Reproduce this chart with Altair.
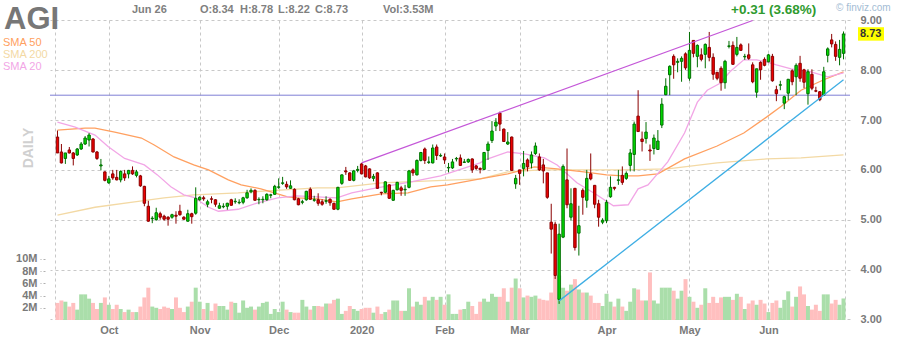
import altair as alt
import pandas as pd

# ---------------- data ----------------
opens = [6.66,6.36,6.23,6.40,6.34,6.30,6.42,6.52,6.60,6.62,
         6.36,6.08,5.96,5.74,5.92,5.85,5.80,5.92,5.92,5.99,
         5.89,5.88,5.67,5.27,5.02,5.00,5.12,5.07,5.05,5.05,
         5.09,5.17,5.05,4.97,5.12,5.13,5.40,5.44,5.31,5.42,
         5.40,5.23,5.26,5.27,5.40,5.36,5.34,5.35,5.44,5.56,
         5.59,5.40,5.40,5.40,5.49,5.51,5.65,5.73,5.71,5.63,
         5.61,5.42,5.35,5.40,5.61,5.39,5.40,5.36,5.37,5.41,
         5.33,5.21,5.73,5.98,5.94,5.79,5.99,6.12,6.08,6.02,
         5.83,5.94,5.55,5.55,5.70,5.39,5.60,5.64,5.60,5.65,
         6.00,5.90,6.19,6.42,6.15,6.14,6.46,6.28,6.26,6.04,
         6.04,6.22,6.24,6.15,6.16,6.22,6.08,6.03,6.01,6.39,
         6.59,6.88,7.14,6.82,6.52,6.66,5.72,6.00,6.03,6.20,
         6.14,6.33,6.26,6.10,5.94,4.95,4.91,3.40,4.65,5.80,
         5.05,5.63,4.73,5.59,5.39,5.92,5.69,5.32,4.95,4.98,
         5.46,5.65,5.79,5.89,5.83,6.09,6.31,7.08,6.62,6.63,
         6.40,6.43,6.41,6.90,7.51,7.91,8.28,8.16,8.18,8.33,
         7.84,8.60,8.28,8.31,8.32,8.46,8.26,7.96,8.04,7.75,
         8.48,8.50,8.32,8.51,8.27,8.31,8.11,7.56,8.16,8.22,
         8.17,8.28,7.61,7.70,7.34,7.54,7.99,7.87,8.14,8.01,
         7.53,7.92,7.59,7.57,7.50,8.30,8.61,8.52,8.26,8.34]
highs = [6.79,6.52,6.34,6.46,6.36,6.44,6.56,6.68,6.74,6.64,
         6.38,6.22,5.97,5.88,6.00,6.00,5.99,6.00,6.00,6.07,
         6.00,5.90,5.68,5.38,5.07,5.24,5.16,5.10,5.07,5.12,
         5.17,5.30,5.07,5.20,5.14,5.65,5.47,5.48,5.40,5.47,
         5.41,5.34,5.33,5.34,5.42,5.43,5.41,5.46,5.60,5.63,
         5.61,5.45,5.47,5.53,5.52,5.70,5.83,5.86,5.77,5.79,
         5.63,5.44,5.40,5.58,5.65,5.48,5.53,5.41,5.47,5.43,
         5.34,5.66,5.91,6.06,5.95,6.00,6.08,6.14,6.10,6.03,
         5.92,5.95,5.56,5.77,5.71,5.60,5.76,5.68,5.70,6.00,
         6.03,6.21,6.36,6.45,6.27,6.51,6.51,6.33,6.33,6.14,
         6.22,6.26,6.31,6.22,6.23,6.23,6.10,6.05,6.36,6.57,
         6.98,7.04,7.17,6.83,6.76,6.67,5.90,6.00,6.38,6.23,
         6.37,6.55,6.33,6.22,5.94,5.32,4.96,4.92,6.11,6.43,
         5.63,5.63,5.28,5.63,6.00,6.33,5.69,5.40,5.03,5.40,
         5.87,5.66,6.00,6.07,5.97,6.42,6.97,7.60,6.77,6.96,
         6.51,6.71,6.80,7.44,7.84,8.10,8.32,8.24,8.28,8.36,
         8.77,8.60,8.52,8.44,8.54,8.77,8.34,7.96,8.08,8.21,
         8.59,8.58,8.67,8.54,8.33,8.54,8.16,8.03,8.18,8.26,
         8.33,8.33,7.69,7.79,7.49,7.82,8.02,8.14,8.29,8.03,
         8.02,8.02,7.67,7.58,8.07,8.46,8.73,8.58,8.61,8.78]
lows = [6.34,6.13,6.12,6.33,6.09,6.28,6.40,6.50,6.47,6.35,
        6.20,5.99,5.77,5.72,5.80,5.79,5.75,5.78,5.83,5.90,
        5.85,5.66,5.27,4.96,4.93,4.98,5.00,4.98,4.88,5.02,
        4.92,5.08,5.00,4.96,4.92,5.10,5.38,5.38,5.25,5.33,
        5.26,5.22,5.23,5.20,5.28,5.32,5.31,5.31,5.42,5.53,
        5.38,5.31,5.33,5.38,5.43,5.50,5.62,5.70,5.62,5.62,
        5.39,5.29,5.31,5.38,5.40,5.36,5.28,5.28,5.32,5.28,
        5.20,5.19,5.70,5.90,5.78,5.77,5.95,5.91,5.85,5.82,
        5.77,5.62,5.49,5.53,5.42,5.38,5.59,5.48,5.48,5.63,
        5.88,5.89,6.17,6.12,6.12,6.13,6.20,6.26,6.12,5.95,
        6.02,6.17,6.08,6.14,6.14,5.94,6.00,5.93,6.00,6.20,
        6.54,6.78,6.78,6.56,6.50,5.98,5.62,5.70,5.87,5.97,
        6.03,6.30,5.98,5.73,5.42,4.32,3.81,3.31,4.63,5.23,
        4.98,4.38,4.28,5.10,5.24,5.79,5.23,4.86,4.91,4.93,
        5.44,5.59,5.70,5.70,5.80,5.97,5.97,6.77,6.37,6.53,
        6.18,6.31,6.40,6.84,7.50,7.50,7.83,7.96,7.77,8.01,
        7.79,8.26,8.06,8.18,8.04,8.18,7.81,7.80,7.59,7.63,
        8.44,8.11,8.28,8.39,8.21,8.21,7.74,7.45,7.81,8.08,
        8.16,7.77,7.38,7.60,7.22,7.40,7.70,7.50,7.77,7.64,
        7.31,7.60,7.56,7.38,7.49,8.16,8.46,8.19,8.10,8.22]
closes = [6.34,6.14,6.34,6.34,6.23,6.42,6.52,6.64,6.70,6.36,
          6.23,6.10,5.79,5.82,5.84,5.80,5.97,5.84,5.99,5.92,
          5.96,5.68,5.33,4.97,5.03,5.14,5.05,5.01,5.01,5.10,
          5.07,5.10,5.01,5.12,5.06,5.43,5.45,5.42,5.36,5.41,
          5.31,5.28,5.27,5.33,5.29,5.37,5.35,5.44,5.54,5.59,
          5.39,5.41,5.41,5.51,5.50,5.67,5.66,5.74,5.66,5.68,
          5.40,5.30,5.36,5.57,5.41,5.40,5.33,5.31,5.38,5.34,
          5.21,5.65,5.90,5.96,5.79,5.98,6.01,5.92,5.86,5.84,
          5.87,5.63,5.54,5.76,5.43,5.59,5.75,5.59,5.61,5.98,
          5.94,6.19,6.35,6.19,6.16,6.44,6.29,6.29,6.20,6.05,
          6.16,6.23,6.09,6.16,6.21,6.00,6.03,6.01,6.35,6.52,
          6.78,6.96,6.92,6.57,6.56,5.99,5.83,5.93,6.13,6.06,
          6.30,6.48,6.00,5.98,5.45,4.81,3.88,4.71,6.07,5.30,
          5.32,4.44,4.88,5.45,5.83,5.82,5.31,5.05,4.99,5.35,
          5.65,5.63,5.80,5.75,5.93,6.34,6.92,6.77,6.57,6.76,
          6.38,6.64,6.58,7.32,7.68,8.08,8.11,8.18,8.24,8.05,
          8.40,8.34,8.50,8.22,8.52,8.26,7.92,7.84,7.75,8.18,
          8.49,8.12,8.46,8.40,8.28,8.24,7.77,8.03,8.01,8.10,
          8.31,7.79,7.53,7.71,7.47,7.82,7.77,8.10,7.84,7.76,
          7.97,7.64,7.58,7.41,7.97,8.43,8.53,8.28,8.42,8.73]
volumes_m = [2.8,3.2,3.0,2.2,2.8,1.7,4.2,4.2,3.5,2.8,
             1.8,2.8,3.7,2.5,1.8,2.5,1.8,1.3,1.7,1.3,
             1.3,2.2,3.7,5.3,2.2,2.0,1.8,2.2,2.0,1.8,
             3.7,2.0,1.3,2.2,3.0,5.3,3.0,1.8,2.8,1.5,
             2.7,2.3,2.3,1.7,3.0,2.8,1.2,3.2,2.0,2.2,
             1.7,2.2,2.8,3.0,1.0,1.8,1.3,3.0,1.7,1.3,
             1.2,1.2,3.3,2.2,1.7,2.3,2.3,2.2,2.7,2.7,
             3.3,3.5,1.0,1.5,2.3,1.8,1.5,1.8,2.0,2.0,
             1.2,2.2,1.0,1.3,1.7,3.2,3.2,1.5,1.5,5.2,
             2.2,3.0,2.5,3.8,3.2,3.8,3.3,3.8,2.5,4.2,
             1.0,1.0,1.7,1.8,3.0,2.3,1.0,3.0,3.5,3.0,
             4.3,3.8,3.8,5.2,3.0,5.3,6.8,5.2,3.7,4.0,
             3.8,4.0,3.5,3.3,3.2,4.5,7.3,7.3,5.3,4.8,
             5.8,6.7,5.0,4.5,4.5,4.0,2.8,2.8,2.3,4.3,
             3.0,2.2,3.5,2.2,1.5,3.0,5.2,5.0,3.2,3.2,
             7.8,3.2,2.7,5.3,5.3,5.3,4.8,3.5,4.8,6.7,
             3.8,3.0,2.0,2.5,5.2,2.8,3.8,2.8,3.7,3.8,
             3.8,3.3,4.3,3.8,1.8,2.7,3.2,2.5,3.3,2.7,
             1.3,2.8,3.2,2.0,3.3,4.7,2.2,3.8,5.5,4.2,
             2.3,1.7,2.5,1.5,4.2,4.2,2.7,3.3,2.5,3.53]

# first trading day of each month (bar index) and its label
month_idx = [13, 36, 56, 77, 98, 117, 139, 160, 180]
month_labels = ["Oct", "Nov", "Dec", "2020", "Feb", "Mar", "Apr", "May", "Jun"]
price_ticks = [3, 4, 5, 6, 7, 8, 9]
vol_ticks = [2, 4, 6, 8, 10]

# moving averages
sma50_idx = [0,7,9.5,14.5,21.25,24.5,29.5,34.5,38.25,43.25,46.5,51.5,55.75,58.25,60.75,65.75,70.75,74.5,82,88.75,
             94.5,98.75,107,114,120.75,126.5,133.25,139,143.25,147,152,158.75,167,173.75,179.5,183.25,188.25,194,199]
sma50_val = [6.80,6.84,6.84,6.76,6.64,6.50,6.26,6.10,6.00,5.80,5.70,5.62,5.52,5.46,5.44,5.42,5.36,5.42,5.52,5.54,
             5.66,5.70,5.82,5.92,6.06,6.02,5.96,5.90,5.88,5.88,5.92,6.22,6.48,6.74,7.06,7.28,7.60,7.81,7.97]
sma200_idx = [0,9.5,19.5,27,34.5,45.75,53.25,65.75,70.75,82,94.5,107,114,122.5,143.25,154.5,167,179.5,188.25,199]
sma200_val = [5.09,5.25,5.36,5.44,5.50,5.54,5.58,5.64,5.64,5.74,5.78,5.82,5.96,6.00,6.00,6.02,6.14,6.22,6.24,6.30]
sma20_idx = [0,4.5,9.5,12.8,17,22,25.3,28.7,32,34.5,38.25,40.75,45.75,50.75,55.75,60.75,65.75,70.75,74.5,79.5,
             89.5,97,107,108.25,114,118.25,123.25,126.5,131.5,136.5,140.75,144.5,147,149.5,154.5,158.75,162,164.5,
             167.75,170.25,173.75,177,179.5,182,185.75,190.75,195,199]
sma20_val = [6.96,6.86,6.70,6.47,6.23,6.10,5.90,5.66,5.50,5.45,5.25,5.17,5.21,5.34,5.44,5.48,5.46,5.44,5.54,5.62,
             5.76,5.88,6.14,6.20,6.36,6.32,6.24,6.10,5.74,5.50,5.28,5.30,5.62,5.70,6.16,6.74,7.36,7.60,
             7.74,7.97,8.21,8.21,8.17,8.11,8.03,7.97,7.87,7.95]

# trend lines
upper_idx = [77, 176]
upper_val = [6.14, 9.00]
lower_idx = [127, 199]
lower_val = [3.37, 7.81]
hline_val = [7.5]

ticker = "AGI"
date_text = "Jun 26"
vol_text = "Vol:3.53M"
change_text = "+0.31 (3.68%)"

# ---------------- styling ----------------
FONT = "Liberation Sans"
GRID = "#c8c8c8"
TXT = "#7a7a7a"
C_UP_FILL, C_UP_EDGE = "#00e000", "#006e00"
C_DN_FILL, C_DN_EDGE = "#ee0000", "#8a0000"
C_VOL_UP, C_VOL_DN = "#aadeaa", "#ffbfbf"

n = len(closes)
df = pd.DataFrame({"i": list(range(n)), "open": opens, "high": highs,
                   "low": lows, "close": closes, "vol": volumes_m})
up = df["close"] >= df["open"]
df["fillc"] = up.map({True: C_UP_FILL, False: C_DN_FILL})
df["edgec"] = up.map({True: C_UP_EDGE, False: C_DN_EDGE})
df["volc"] = up.map({True: C_VOL_UP, False: C_VOL_DN})

X_DOM = [-0.625, n - 0.625]
X_SCALE = alt.Scale(domain=X_DOM, nice=False, zero=False)
label_expr = "".join(f"datum.value=={v}?'{l}':" for v, l in zip(month_idx, month_labels)) + "''"
x_axis = alt.Axis(values=[X_DOM[0]] + month_idx + [X_DOM[1]], labelExpr=label_expr, grid=True,
                  gridDash=[3, 3], gridColor=GRID, ticks=False, domain=False, labelPadding=4,
                  labelFont=FONT, labelFontSize=11, labelFontWeight="bold", labelColor=TXT,
                  labelOverlap=False, labelFlush=False, title=None)

def X(field="i"):
    return alt.X(f"{field}:Q", scale=X_SCALE, axis=x_axis)

Y_SCALE = alt.Scale(domain=[2.986, 9.01], nice=False, zero=False)
y_axis = alt.Axis(orient="right", values=price_ticks, format=".2f", grid=True, gridDash=[3, 3],
                  gridColor=GRID, ticks=False, domain=False, labelPadding=10, labelFont=FONT,
                  labelFontSize=11, labelFontWeight="bold", labelColor=TXT, labelFlush=False, title=None)

def Y(field):
    return alt.Y(f"{field}:Q", scale=Y_SCALE, axis=y_axis)

V_SCALE = alt.Scale(domain=[0, 49.18], nice=False, zero=True)
v_axis = alt.Axis(orient="left", values=vol_ticks, labelExpr="datum.value + 'M'", grid=False,
                  ticks=True, tickSize=5, tickColor="#b0b0b0", tickDash=[2, 2], domain=False, offset=5,
                  labelPadding=3, labelFont=FONT, labelFontSize=11, labelFontWeight="bold",
                  labelColor=TXT, labelFlush=False, title=None)

volume = alt.Chart(df).mark_bar(size=4).encode(
    x=X(), y=alt.Y("vol:Q", scale=V_SCALE, axis=v_axis),
    color=alt.Color("volc:N", scale=None))

def line_df(idx, val):
    return pd.DataFrame({"i": idx, "v": val})

hline = alt.Chart(pd.DataFrame({"v": hline_val})).mark_rule(color="#7f7fd6", strokeWidth=1).encode(y=Y("v"))
sma200 = alt.Chart(line_df(sma200_idx, sma200_val)).mark_line(color="#f3d9a4", strokeWidth=1.3).encode(x=X(), y=Y("v"))
sma50 = alt.Chart(line_df(sma50_idx, sma50_val)).mark_line(color="#ffa060", strokeWidth=1.3).encode(x=X(), y=Y("v"))
sma20 = alt.Chart(line_df(sma20_idx, sma20_val)).mark_line(color="#f2a6e6", strokeWidth=1.3).encode(x=X(), y=Y("v"))

wicks = alt.Chart(df).mark_rule(strokeWidth=1).encode(
    x=X(), y=Y("low"), y2="high", color=alt.Color("edgec:N", scale=None))
bodies = alt.Chart(df).mark_bar(size=2.4, strokeWidth=1).encode(
    x=X(), y=Y("open"), y2="close",
    fill=alt.Fill("fillc:N", scale=None), stroke=alt.Stroke("edgec:N", scale=None))

upper = alt.Chart(line_df(upper_idx, upper_val)).mark_line(color="#c457d8", strokeWidth=1.3).encode(x=X(), y=Y("v"))
lower = alt.Chart(line_df(lower_idx, lower_val)).mark_line(color="#3eaee4", strokeWidth=1.3).encode(x=X(), y=Y("v"))

last = closes[-1]
last_box = alt.Chart(pd.DataFrame({"a": [last + 0.135], "b": [last - 0.135]})).mark_rect(color="#ffff00").encode(
    x=alt.value(808), x2=alt.value(834), y=Y("a"), y2="b")
last_txt = alt.Chart(pd.DataFrame({"v": [last], "t": [f"{last:.2f}"]})).mark_text(
    align="left", baseline="middle", font=FONT, fontSize=11, fontWeight="bold", color="#333333").encode(
    x=alt.value(810), y=Y("v"), text="t:N")

def label(text, x, y, size, color, weight="normal", align="left", baseline="middle", angle=0):
    return alt.Chart(pd.DataFrame({"t": [text]})).mark_text(
        align=align, baseline=baseline, font=FONT, fontSize=size, fontWeight=weight,
        color=color, angle=angle).encode(x=alt.value(x - 50), y=alt.value(y - 20), text="t:N")

texts = [
    label(ticker, 4, 29, 31, "#777777", "bold", baseline="alphabetic"),
    label("SMA 50", 3, 43, 11, "#ffa060"),
    label("SMA 200", 3, 55, 11, "#f3d9a4"),
    label("SMA 20", 3, 67, 11, "#f2a6e6"),
    label("DAILY", 29, 148, 14, "#d0d0d0", "bold", align="center", angle=270),
    label(date_text, 132, 10, 11, "#808080", "bold"),
    label(f"O:{opens[-1]:.2f}", 200, 10, 11, "#808080", "bold"),
    label(f"H:{highs[-1]:.2f}", 240, 10, 11, "#808080", "bold"),
    label(f"L:{lows[-1]:.2f}", 278, 10, 11, "#808080", "bold"),
    label(f"C:{closes[-1]:.2f}", 315, 10, 11, "#808080", "bold"),
    label(vol_text, 383, 10, 11, "#808080", "bold"),
    label(change_text, 731, 10, 13.5, "#2f9b2f", "bold"),
    label("\u00a9 finviz.com", 836, 8, 10, "#a3bcd4"),
]

price_layer = alt.layer(hline, sma200, sma50, sma20, wicks, bodies, upper, lower,
                        last_box, last_txt, *texts)

chart = alt.layer(volume, price_layer).resolve_scale(y="independent").properties(
    width=800, height=300,
    autosize=alt.AutoSizeParams(type="none"),
    padding={"left": 50, "top": 20, "right": 50, "bottom": 20},
    background="white",
).configure_view(stroke=None)

chart.save("out.html", embed_options={"renderer": "svg", "actions": False})
